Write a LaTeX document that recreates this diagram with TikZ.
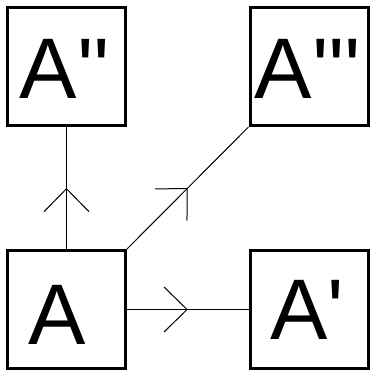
\documentclass[tikz,border=0pt]{standalone}
\usepackage{fontspec}
\newfontfamily\lblfont{Liberation Sans}
\usetikzlibrary{arrows.meta,decorations.markings}

\begin{document}
\begin{tikzpicture}[
  x=1pt, y=-1pt,
  box/.style={draw, line width=3pt, minimum size=118pt, inner sep=0pt},
  lbl/.style={font=\lblfont\fontsize{86}{86}\selectfont, inner sep=0pt},
  arr/.style={line width=1pt, postaction={decorate},
              decoration={markings, mark=at position 0.5 with
                {\arrow{Straight Barb[length=23pt,width=45pt]}}}}
]
\useasboundingbox (0,0) rectangle (375,378);
% boxes
\node[box] (a)    at (66.5,309.5) {};
\node[box] (aone) at (309,309.5) {};
\node[box] (atwo) at (66.5,66.5) {};
\node[box] (athr) at (309,66.5) {};
% labels
\node[lbl] (la)    at (57.5,315) {A};
\node[lbl] (laone) at (307,310) {A'};
\node[lbl] (latwo) at (65,69) {A''};
\node[lbl] (lathr) at (308,69) {A'''};
% maps
\draw[arr] (a) -- (atwo);
\draw[arr] (a) -- (aone);
\draw[arr] (a.north east) -- (athr.south west);
\end{tikzpicture}
\end{document}
